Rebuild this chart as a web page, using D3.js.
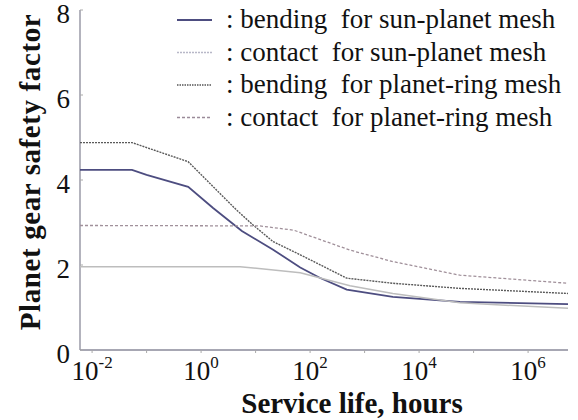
<!DOCTYPE html>
<html>
<head>
<meta charset="utf-8">
<script src="https://cdn.jsdelivr.net/npm/d3@7"></script>
<style>
  body { margin: 0; background: #fff; }
  svg text { font-family: "Liberation Serif", "Times New Roman", Times, serif; fill: #111; }
</style>
</head>
<body>
<svg id="drawing_region"></svg>
<script>
// service life (hours) and safety factor
const bendSunX   = [0.006, 0.054, 0.1, 0.58, 1.66, 5.6, 21, 66, 150, 470, 3300, 56000, 5.4e6];
const bendSunY   = [4.24, 4.24, 4.12, 3.84, 3.34, 2.8, 2.36, 1.94, 1.7, 1.42, 1.25, 1.13, 1.08];
const contSunX   = [0.006, 5.2, 66, 540, 3300, 56000, 5.4e6];
const contSunY   = [1.96, 1.96, 1.82, 1.51, 1.33, 1.11, 0.98];
const bendRingX  = [0.006, 0.054, 0.58, 4.5, 9, 21, 66, 470, 3300, 56000, 5.4e6];
const bendRingY  = [4.88, 4.88, 4.43, 3.29, 2.94, 2.55, 2.24, 1.69, 1.57, 1.45, 1.33];
const contRingX  = [0.006, 12, 50, 540, 3300, 56000, 5.4e6];
const contRingY  = [2.93, 2.92, 2.82, 2.35, 2.08, 1.76, 1.57];

const xTickExp = [-2, 0, 2, 4, 6];
const xMinorExp = [-2, -1, 0, 1, 2, 3, 4, 5, 6];
const yTicks = [0, 2, 4, 6, 8];

const legendLabels = [
    ": bending\u00a0 for sun-planet mesh",
    ": contact\u00a0 for sun-planet mesh",
    ": bending\u00a0 for planet-ring mesh",
    ": contact\u00a0 for planet-ring mesh"
];

const series = [
    { xs: bendSunX,  ys: bendSunY,  color: "#4d4d80", width: 1.8, dash: null },
    { xs: contSunX,  ys: contSunY,  color: "#bdbdbd", width: 1.5, dash: null },
    { xs: bendRingX, ys: bendRingY, color: "#5a5a5a", width: 1.4, dash: "2,1" },
    { xs: contRingX, ys: contRingY, color: "#a0909a", width: 1.3, dash: "3,2" }
];
const legendDash = [null, "2,1", "1.5,1", "3,2"];
const legendColor = ["#4d4d80", "#b8b8c8", "#555", "#9a8a99"];

const width = 578, height = 420;
const mLeft = 80, mRight = 568, mTop = 10, mBottom = 350;
const serifFont = '"Liberation Serif", "Times New Roman", Times, serif';

const svg = d3.select("#drawing_region")
    .attr("width", width)
    .attr("height", height);

const x = d3.scaleLog()
    .domain([0.006, 5.4e6])
    .range([mLeft, mRight]);

const y = d3.scaleLinear()
    .domain([0, 8])
    .range([mBottom, mTop]);

// axes
svg.append("line")
    .attr("x1", mLeft).attr("x2", mLeft)
    .attr("y1", mTop).attr("y2", mBottom)
    .attr("stroke", "#8a8a9a").attr("stroke-width", 1.3);
svg.append("line")
    .attr("x1", mLeft).attr("x2", mRight)
    .attr("y1", mBottom).attr("y2", mBottom)
    .attr("stroke", "#8a8a9a").attr("stroke-width", 1.3);

svg.selectAll(".xtick")
    .data(xMinorExp)
    .enter()
    .append("line")
    .attr("x1", d => x(Math.pow(10, d)))
    .attr("x2", d => x(Math.pow(10, d)))
    .attr("y1", mBottom)
    .attr("y2", mBottom + 3)
    .attr("stroke", "#aaa");

svg.selectAll(".ytick")
    .data(yTicks)
    .enter()
    .append("line")
    .attr("x1", mLeft)
    .attr("x2", mLeft + 3)
    .attr("y1", d => y(d))
    .attr("y2", d => y(d))
    .attr("stroke", "#aaa");

svg.selectAll(".ylab")
    .data(yTicks)
    .enter()
    .append("text")
    .attr("x", 70)
    .attr("y", d => y(d) + 13)
    .attr("text-anchor", "end")
    .style("font-family", serifFont)
    .style("font-size", "27px")
    .text(d => d);

const xl = svg.selectAll(".xlab")
    .data(xTickExp)
    .enter()
    .append("text")
    .attr("x", d => x(Math.pow(10, d)))
    .attr("y", 380)
    .attr("text-anchor", "middle")
    .style("font-family", serifFont)
    .style("font-size", "27px");
xl.append("tspan").text("10");
xl.append("tspan")
    .attr("dy", -12)
    .style("font-size", "17px")
    .text(d => d);

// axis titles
svg.append("text")
    .attr("x", 352)
    .attr("y", 413)
    .attr("text-anchor", "middle")
    .style("font-family", serifFont)
    .style("font-size", "29px")
    .style("font-weight", "bold")
    .text("Service life, hours");

svg.append("text")
    .attr("transform", "translate(40,172) rotate(-90)")
    .attr("text-anchor", "middle")
    .style("font-family", serifFont)
    .style("font-size", "29px")
    .style("font-weight", "bold")
    .style("letter-spacing", "0.6px")
    .text("Planet gear safety factor");

// curves
const line = d3.line()
    .x(d => x(d[0]))
    .y(d => y(d[1]));

svg.selectAll(".curve")
    .data(series)
    .enter()
    .append("path")
    .attr("d", s => line(s.xs.map((v, i) => [v, s.ys[i]])))
    .attr("fill", "none")
    .attr("stroke", s => s.color)
    .attr("stroke-width", s => s.width)
    .attr("stroke-dasharray", s => s.dash);

// legend
const lg = svg.selectAll(".legend")
    .data(legendLabels)
    .enter()
    .append("g")
    .attr("transform", (d, i) => `translate(0, ${20 + i * 32.5})`);
lg.append("line")
    .attr("x1", 177).attr("x2", 212)
    .attr("y1", 0).attr("y2", 0)
    .attr("stroke", (d, i) => legendColor[i])
    .attr("stroke-width", (d, i) => i == 0 ? 2.2 : 1.6)
    .attr("stroke-dasharray", (d, i) => legendDash[i]);
lg.append("text")
    .attr("x", 226)
    .attr("y", 8)
    .style("font-family", serifFont)
    .style("font-size", "27px")
    .text(d => d);
</script>
</body>
</html>
